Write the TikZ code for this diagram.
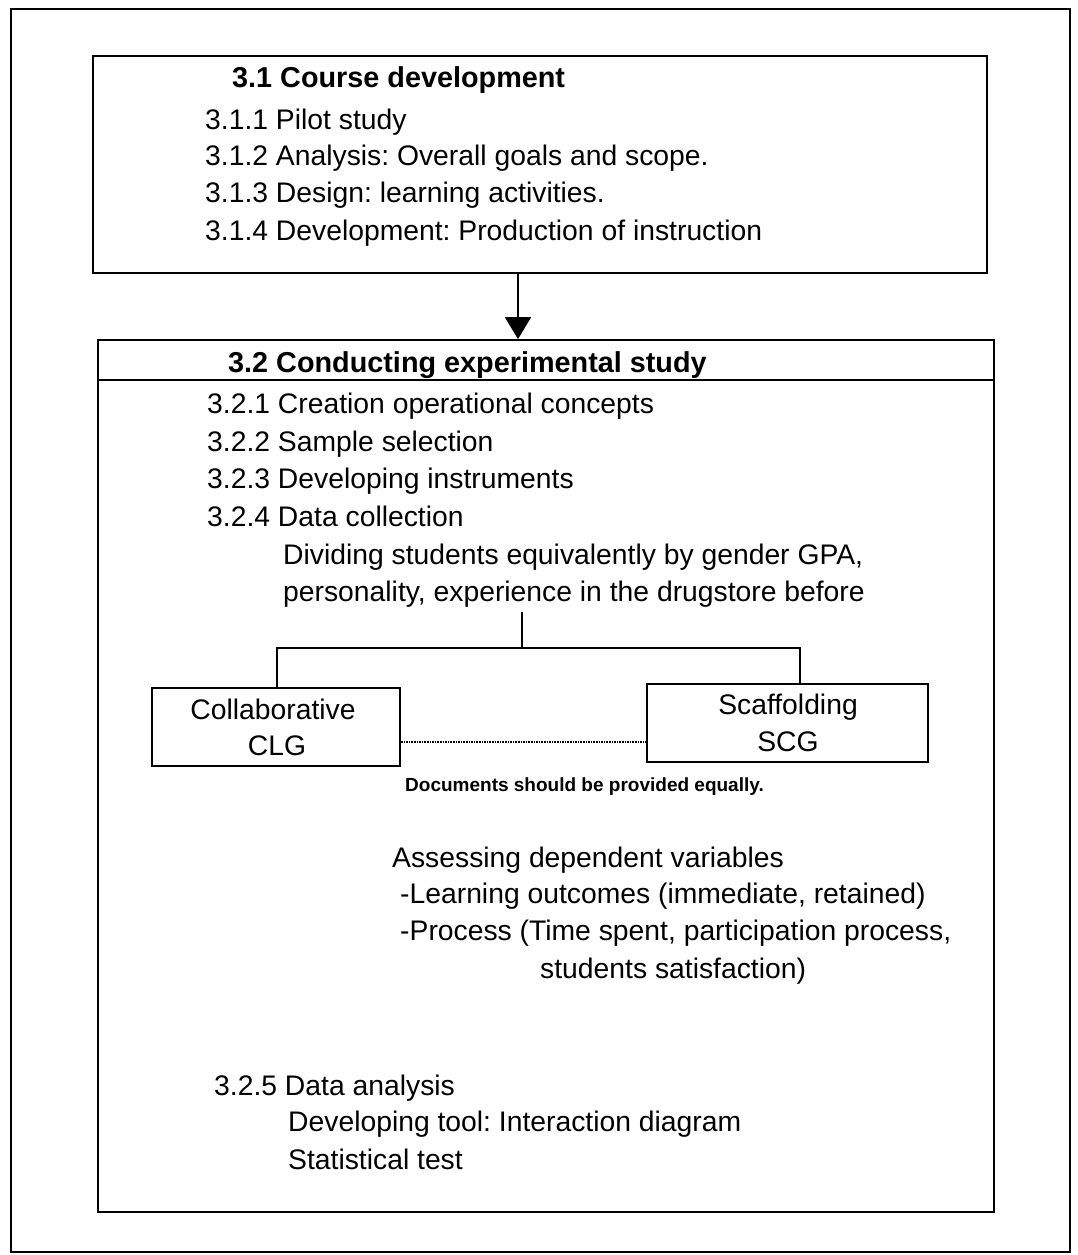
\documentclass[tikz,border=0pt]{standalone}
\usepackage{fontspec}
\setmainfont{Liberation Sans}
\usetikzlibrary{arrows.meta}
\begin{document}
\frenchspacing
\begin{tikzpicture}[x=1pt,y=-1pt,
  box/.style={draw,line width=1.8pt,inner sep=0pt},
  txt/.style={anchor=base west,inner sep=0pt,font=\fontsize{28.3}{34}\selectfont\frenchspacing},
  head/.style={anchor=base west,inner sep=0pt,font=\fontsize{28.8}{34}\selectfont\bfseries},
  small/.style={anchor=base west,inner sep=0pt,font=\fontsize{19}{22}\selectfont\bfseries\frenchspacing},
  ctxt/.style={anchor=base,inner sep=0pt,font=\fontsize{28.3}{34}\selectfont},
  link/.style={line width=1.8pt}]
\useasboundingbox (0,0) rectangle (1077,1255);
\fill[white] (0,0) rectangle (1077,1255);
% outer frame
\draw[line width=1.8pt] (11,9) rectangle (1070,1252);
% box 1
\node[box,minimum width=894pt,minimum height=217pt] (box1) at (540,164.5) {};
\node[head] (h1) at (232,88) {3.1 Course development};
\node[txt] (t311) at (205,129) {3.1.1 Pilot study};
\node[txt] (t312) at (205,165) {3.1.2 Analysis: Overall goals and scope.};
\node[txt] (t313) at (205,202) {3.1.3 Design: learning activities.};
\node[txt] (t314) at (205,240) {3.1.4 Development: Production of instruction};
% box 2
\node[box,minimum width=896pt,minimum height=872pt] (box2) at (546,776) {};
\coordinate (hl) at (0,380);
\draw[link] (box2.west |- hl) -- (box2.east |- hl);
\node[head] (h2) at (228,372) {3.2 Conducting experimental study};
\node[txt] (t321) at (207,413) {3.2.1 Creation operational concepts};
\node[txt] (t322) at (207,451) {3.2.2 Sample selection};
\node[txt] (t323) at (207,488) {3.2.3 Developing instruments};
\node[txt] (t324) at (207,526) {3.2.4 Data collection};
\node[txt] (div1) at (283,564) {Dividing students equivalently by gender GPA,};
\node[txt] (div2) at (283,601) {personality, experience in the drugstore before};
% arrow between boxes
\coordinate (ax) at (518,0);
\draw[link,-{Triangle[width=26pt,length=22pt]}] (box1.south -| ax) -- (box2.north -| ax);
% groups
\node[box,minimum width=248pt,minimum height=78pt] (clg) at (276,727) {};
\node[ctxt] at (273,719) {Collaborative};
\node[ctxt] at (277,755) {CLG};
\node[box,minimum width=281pt,minimum height=78pt] (scg) at (787.5,723) {};
\node[ctxt] at (788,714) {Scaffolding};
\node[ctxt] at (788,751) {SCG};
% tree
\coordinate (split) at (522,612);
\coordinate (junc) at (522,648);
\coordinate (lx) at (277,0);
\coordinate (rx) at (800,0);
\draw[link] (split) -- (junc);
\draw[link] (clg.north -| lx) |- (junc) -| (scg.north -| rx);
% dotted link
\coordinate (dy) at (0,742);
\draw[line width=1.6pt,densely dotted] (clg.east |- dy) -- (scg.west |- dy);
\node[small] (doc) at (405,791) {Documents should be provided equally.};
% dependent variables
\node[txt] (a1) at (392,867) {Assessing dependent variables};
\node[txt] (a2) at (400,903) {-Learning outcomes (immediate, retained)};
\node[txt] (a3) at (400,940) {-Process (Time spent, participation process,};
\node[txt] (a4) at (540,978) {students satisfaction)};
% data analysis
\node[txt] (d1) at (214,1095) {3.2.5 Data analysis};
\node[txt] (d2) at (288,1131) {Developing tool: Interaction diagram};
\node[txt] (d3) at (288,1169) {Statistical test};
\end{tikzpicture}
\end{document}
